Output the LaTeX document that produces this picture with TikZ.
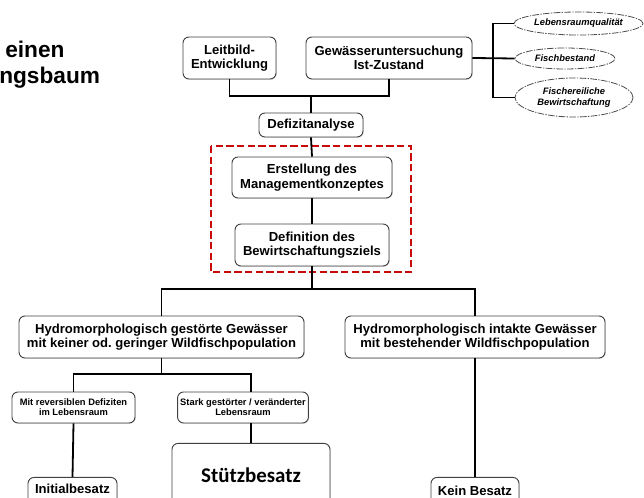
\documentclass[tikz,border=0pt]{standalone}
\usepackage{fontspec}
\setmainfont{Liberation Sans}
\newfontfamily\calibri{Carlito}
\usetikzlibrary{shapes.geometric}
\usetikzlibrary{shadows}
\definecolor{rahmenrot}{RGB}{200,10,10}

\begin{document}
\begin{tikzpicture}[
    % Koordinaten in Pixeln des Bildes
    x=0.75pt, y=-0.75pt,
    % Kasten mit abgerundeten Ecken
    box/.style={draw=black!75, rounded corners=4.5pt, fill=white, align=center,
      inner sep=2pt, line width=0.7pt,
      font=\bfseries\fontsize{9.8}{11}\selectfont,
      drop shadow={shadow xshift=0.6pt, shadow yshift=-0.6pt, opacity=0.25}},
    % Kleiner Kasten
    smallbox/.style={box, font=\bfseries\fontsize{7}{7.6}\selectfont},
    % Ovale rechts oben
    oval/.style={ellipse, draw=black!70, line width=0.6pt, inner sep=0pt,
      dash pattern=on 5pt off 1pt on 1pt off 1pt, align=center,
      font=\bfseries\itshape\fontsize{7}{8.3}\selectfont},
    % Verbindungslinien
    conn/.style={line width=1.35pt},
    % Titeltext
    titel/.style={anchor=base west, inner sep=0pt,
      font=\bfseries\fontsize{17}{20}\selectfont}
  ]

  \useasboundingbox (0,0) rectangle (644,498);
  \clip (0,0) rectangle (644,498);

  % Titel (angeschnitten)
  \node[titel] (titel1) at (5,58) {einen};
  \node[titel] (titel2) at (-1,83.5) {ngsbaum};

  % Roter Rahmen
  \draw[rahmenrot, line width=2pt, dash pattern=on 5.5pt off 2.5pt]
    (211,146) rectangle (411,272);

  % Obere Ebene
  \node[box, minimum width=69.75pt, minimum height=31.5pt] (leitbild) at (229.5,58)
    {Leitbild-\\Entwicklung};
  \node[box, minimum width=124.5pt, minimum height=31.5pt] (gewaesser) at (389,58)
    {Gewässeruntersuchung\\Ist-Zustand};

  % Ovale
  \node[oval, minimum width=96.75pt, minimum height=17.25pt] (lebensraum) at (578.5,23.5)
    {Lebensraumqualität};
  \node[oval, minimum width=75pt, minimum height=15.75pt] (fisch) at (565,58.5)
    {Fischbestand};
  \node[oval, minimum width=88.5pt, minimum height=29.25pt] (fischerei) at (574,97.5)
    {Fischereiliche\\Bewirtschaftung};

  % Mittlere Kette
  \node[box, minimum width=78pt, minimum height=18pt] (defizit) at (311,125)
    {Defizitanalyse};
  \node[box, minimum width=120pt, minimum height=30.75pt] (erstellung) at (312,177.5)
    {Erstellung des\\Managementkonzeptes};
  \node[box, minimum width=115.5pt, minimum height=31.5pt] (definition) at (312,245)
    {Definition des\\Bewirtschaftungsziels};

  % Zwei Gewässertypen
  \node[box, minimum width=213.75pt, minimum height=31.5pt] (gestoert) at (161.5,337)
    {Hydromorphologisch gestörte Gewässer\\mit keiner od.\ geringer Wildfischpopulation};
  \node[box, minimum width=195pt, minimum height=31.5pt] (intakt) at (475,337)
    {Hydromorphologisch intakte Gewässer\\mit bestehender Wildfischpopulation};

  % Untere Ebene
  \node[smallbox, minimum width=92.25pt, minimum height=23.25pt] (reversibel) at (73.5,407.5)
    {Mit reversiblen Defiziten\\im Lebensraum};
  \node[smallbox, minimum width=96pt, minimum height=23.25pt] (stark) at (243,407.5)
    {Stark gestörter / veränderter\\Lebensraum};

  % Besatz
  \node[box, anchor=north, minimum width=66.75pt, text height=10pt, text depth=20pt]
    (initial) at (72.5,477) {Initialbesatz};
  \node[box, anchor=north, minimum width=118.5pt, text height=27pt, text depth=20pt,
    font=\calibri\bfseries\fontsize{15.7}{18}\selectfont]
    (stuetz) at (251,443) {Stützbesatz};
  \node[box, anchor=north, minimum width=66pt, text height=11.5pt, text depth=20pt]
    (kein) at (475,477) {Kein Besatz};

  % Verbindungen
  \coordinate (j1) at (311,96);
  \coordinate (j2) at (312,289);
  \coordinate (j3) at (161.5,374);
  \coordinate (j4) at (493,58);
  \draw[conn] (leitbild.south) |- (j1) -| (gewaesser.south);
  \draw[conn] (j1) -- (defizit.north);
  \draw[conn] (gewaesser.east) -- (fisch.west);
  \draw[conn] (lebensraum.west) -| (j4) |- (fischerei.west);
  \draw[conn] (defizit.south) -- (erstellung.north);
  \draw[conn] (erstellung.south) -- (definition.north);
  \draw[conn] (definition.south) -- (j2);
  \draw[conn] (gestoert.north) |- (j2) -| (intakt.north);
  \draw[conn] (gestoert.south) -- (j3);
  \draw[conn] (reversibel.north) |- (j3) -| (stark.north -| stuetz.north);
  \draw[conn] (reversibel.south) -- (initial.north);
  \draw[conn] (stark.south -| stuetz.north) -- (stuetz.north);
  \draw[conn] (intakt.south) -- (kein.north);

\end{tikzpicture}
\end{document}
